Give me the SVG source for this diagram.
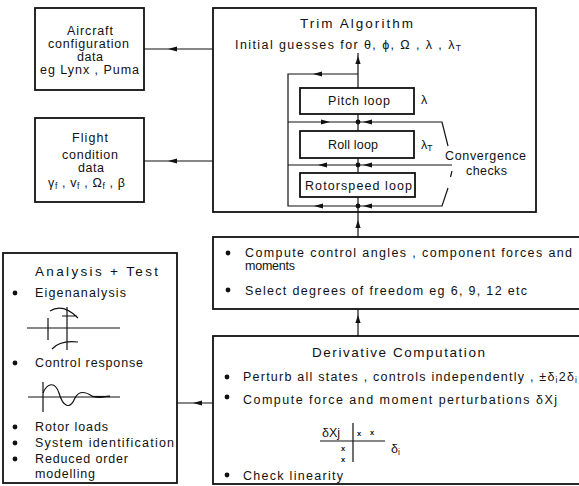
<svg xmlns="http://www.w3.org/2000/svg" xmlns:xlink="http://www.w3.org/1999/xlink" width="579" height="486" viewBox="0 0 579 486">
<style>
.box{fill:none;stroke:#111;stroke-width:1.8}
.ln{fill:none;stroke:#111;stroke-width:1.2}
.t{font-family:"Liberation Sans",Arial,sans-serif;font-size:12.5px;fill:#111}
.h{font-family:"Liberation Sans",Arial,sans-serif;font-size:13.5px;fill:#111}
.sm{font-size:8.5px}
.xm{font-family:"Liberation Sans",Arial,sans-serif;font-size:7.5px;font-weight:bold;fill:#111}
.dot{fill:#111}
.ah{fill:#111}
</style>
<defs>
<path id="ahL" d="M0,0 L9,-2.6 L9,2.6 Z"/>
<path id="ahR" d="M0,0 L-9,-2.6 L-9,2.6 Z"/>
<path id="ahU" d="M0,0 L-2.6,8 L2.6,8 Z"/>
</defs>
<rect x="0" y="0" width="579" height="486" fill="#fff"/>

<g id="connectors">
<line class="ln" x1="144" y1="49" x2="213" y2="49"/>
<use xlink:href="#ahL" href="#ahL" class="ah" x="168" y="49"/>
<line class="ln" x1="144" y1="161" x2="213" y2="161"/>
<use xlink:href="#ahL" href="#ahL" class="ah" x="168" y="161"/>
<line class="ln" x1="177" y1="403" x2="213" y2="403"/>
<use xlink:href="#ahL" href="#ahL" class="ah" x="193" y="403"/>
<line class="ln" x1="358" y1="212" x2="358" y2="237"/>
<use xlink:href="#ahU" href="#ahU" class="ah" x="358" y="220"/>
<line class="ln" x1="358" y1="309" x2="358" y2="336"/>
<use xlink:href="#ahU" href="#ahU" class="ah" x="358" y="315"/>
</g>

<g id="aircraft">
<rect class="box" x="35" y="8" width="109" height="82"/>
<text class="t" x="67" y="35" textLength="46">Aircraft</text>
<text class="t" x="48" y="48" textLength="81">configuration</text>
<text class="t" x="77" y="61" textLength="26">data</text>
<text class="t" x="40" y="74" textLength="99">eg Lynx , Puma</text>
</g>

<g id="flight">
<rect class="box" x="35" y="118" width="109" height="84"/>
<text class="t" x="72" y="142" textLength="36">Flight</text>
<text class="t" x="62" y="159" textLength="56">condition</text>
<text class="t" x="78" y="172" textLength="26">data</text>
<text class="t" x="48" y="187" textLength="77">γ<tspan class="sm" dy="2">f</tspan><tspan dy="-2"> , v</tspan><tspan class="sm" dy="2">f</tspan><tspan dy="-2"> , Ω</tspan><tspan class="sm" dy="2">f</tspan><tspan dy="-2"> , β</tspan></text>
</g>

<g id="trim">
<rect class="box" x="213" y="8" width="323" height="204"/>
<text class="h" x="300" y="28" textLength="113">Trim Algorithm</text>
<text class="t" x="235" y="49" textLength="226">Initial guesses for θ, ϕ, Ω , λ , λ<tspan class="sm" dy="2">T</tspan></text>
<path class="ln" d="M358,53 V88 M358,114 V131 M358,158 V173 M358,197 V212"/>
<path class="ln" d="M358,74 H288 V206 H442 L448,188"/>
<path class="ln" d="M288,122 H442 L448,146"/>
<path class="ln" d="M288,165 H452"/>
<path class="ln" d="M450.5,177 L452,171"/>
<use xlink:href="#ahU" href="#ahU" class="ah" x="358" y="56"/>
<use xlink:href="#ahL" href="#ahL" class="ah" x="313" y="74"/>
<use xlink:href="#ahR" href="#ahR" class="ah" x="330" y="122"/>
<use xlink:href="#ahL" href="#ahL" class="ah" x="363" y="122"/>
<use xlink:href="#ahL" href="#ahL" class="ah" x="318" y="165"/>
<use xlink:href="#ahL" href="#ahL" class="ah" x="363" y="165"/>
<use xlink:href="#ahL" href="#ahL" class="ah" x="314" y="206"/>
<use xlink:href="#ahL" href="#ahL" class="ah" x="363" y="206"/>
<circle class="dot" cx="358" cy="122" r="2.4"/>
<circle class="dot" cx="358" cy="165" r="2.4"/>
<circle class="dot" cx="358" cy="206" r="2.4"/>
<text class="t" x="421" y="104">λ</text>
<text class="t" x="421" y="149">λ<tspan class="sm" dy="2">T</tspan></text>
<text class="t" x="445" y="160" textLength="81">Convergence</text>
<text class="t" x="466" y="175" textLength="41">checks</text>
</g>

<g id="pitch">
<rect class="box" x="300" y="88" width="114" height="26"/>
<text class="t" x="328" y="105" textLength="62">Pitch loop</text>
</g>
<g id="roll">
<rect class="box" x="300" y="131" width="114" height="27"/>
<text class="t" x="328" y="149" textLength="50">Roll loop</text>
</g>
<g id="rotorspeed">
<rect class="box" x="300" y="173" width="115" height="24"/>
<text class="t" x="305" y="190" textLength="107">Rotorspeed loop</text>
</g>

<g id="compute">
<rect class="box" x="213" y="237" width="380" height="72"/>
<circle class="dot" cx="228" cy="253" r="2.4"/>
<circle class="dot" cx="228" cy="290" r="2.4"/>
<text class="t" x="245" y="257" textLength="327">Compute control angles , component forces and</text>
<text class="t" x="245" y="270" textLength="50">moments</text>
<text class="t" x="245" y="295" textLength="282">Select degrees of freedom eg 6, 9, 12 etc</text>
</g>

<g id="derivative">
<rect class="box" x="213" y="336" width="380" height="148"/>
<text class="h" x="312" y="357" textLength="173">Derivative Computation</text>
<circle class="dot" cx="227" cy="377" r="2.4"/>
<circle class="dot" cx="227" cy="397" r="2.4"/>
<circle class="dot" cx="227" cy="475" r="2.4"/>
<text class="t" x="243" y="381" textLength="334">Perturb all states , controls independently , ±δ<tspan class="sm" dy="2">i</tspan><tspan dy="-2">2δ</tspan><tspan class="sm" dy="2">i</tspan></text>
<text class="t" x="243" y="404" textLength="314">Compute force and moment perturbations δXj</text>
<path class="ln" d="M320,441 H385 M353,423 V462"/>
<text class="t" x="322" y="437" font-size="11.5">δXj</text>
<text class="t" x="391" y="453" font-size="11.5">δ<tspan class="sm" dy="2">i</tspan></text>
<text class="xm" x="357" y="436">x</text>
<text class="xm" x="370" y="435">x</text>
<text class="xm" x="341" y="451">x</text>
<text class="xm" x="341" y="462">x</text>
<text class="t" x="243" y="480" textLength="100">Check linearity</text>
</g>

<g id="analysis">
<rect class="box" x="3" y="253" width="174" height="230"/>
<text class="h" x="35" y="276" textLength="123">Analysis + Test</text>
<circle class="dot" cx="15" cy="293" r="2.4"/>
<circle class="dot" cx="15" cy="363" r="2.4"/>
<circle class="dot" cx="15" cy="427" r="2.4"/>
<circle class="dot" cx="15" cy="443" r="2.4"/>
<circle class="dot" cx="15" cy="459" r="2.4"/>
<text class="t" x="35" y="297" textLength="91">Eigenanalysis</text>
<path class="ln" d="M27,328 H120 M48,318 V340"/>
<path class="ln" stroke-width="2.4" d="M67,307 V350"/>
<path class="ln" stroke-width="1.8" d="M50,311 Q63,303 78,318 M52,349 Q60,340 78,342 M62,316 H77"/>
<text class="t" x="35" y="367" textLength="108">Control response</text>
<path class="ln" d="M28,397 H120 M43,382 V412"/>
<path class="ln" stroke-width="1.6" d="M43,393 C47,383 55,381 59,393 C63,407 70,410 75,398 C79,390 86,392 92,396 C97,399 101,397 110,396"/>
<path class="ln" stroke-width="2.6" d="M92,396.5 H110"/>
<text class="t" x="35" y="431" textLength="73">Rotor loads</text>
<text class="t" x="35" y="447" textLength="139">System identification</text>
<text class="t" x="35" y="463" textLength="93">Reduced order</text>
<text class="t" x="35" y="478" textLength="60">modelling</text>
</g>
</svg>
